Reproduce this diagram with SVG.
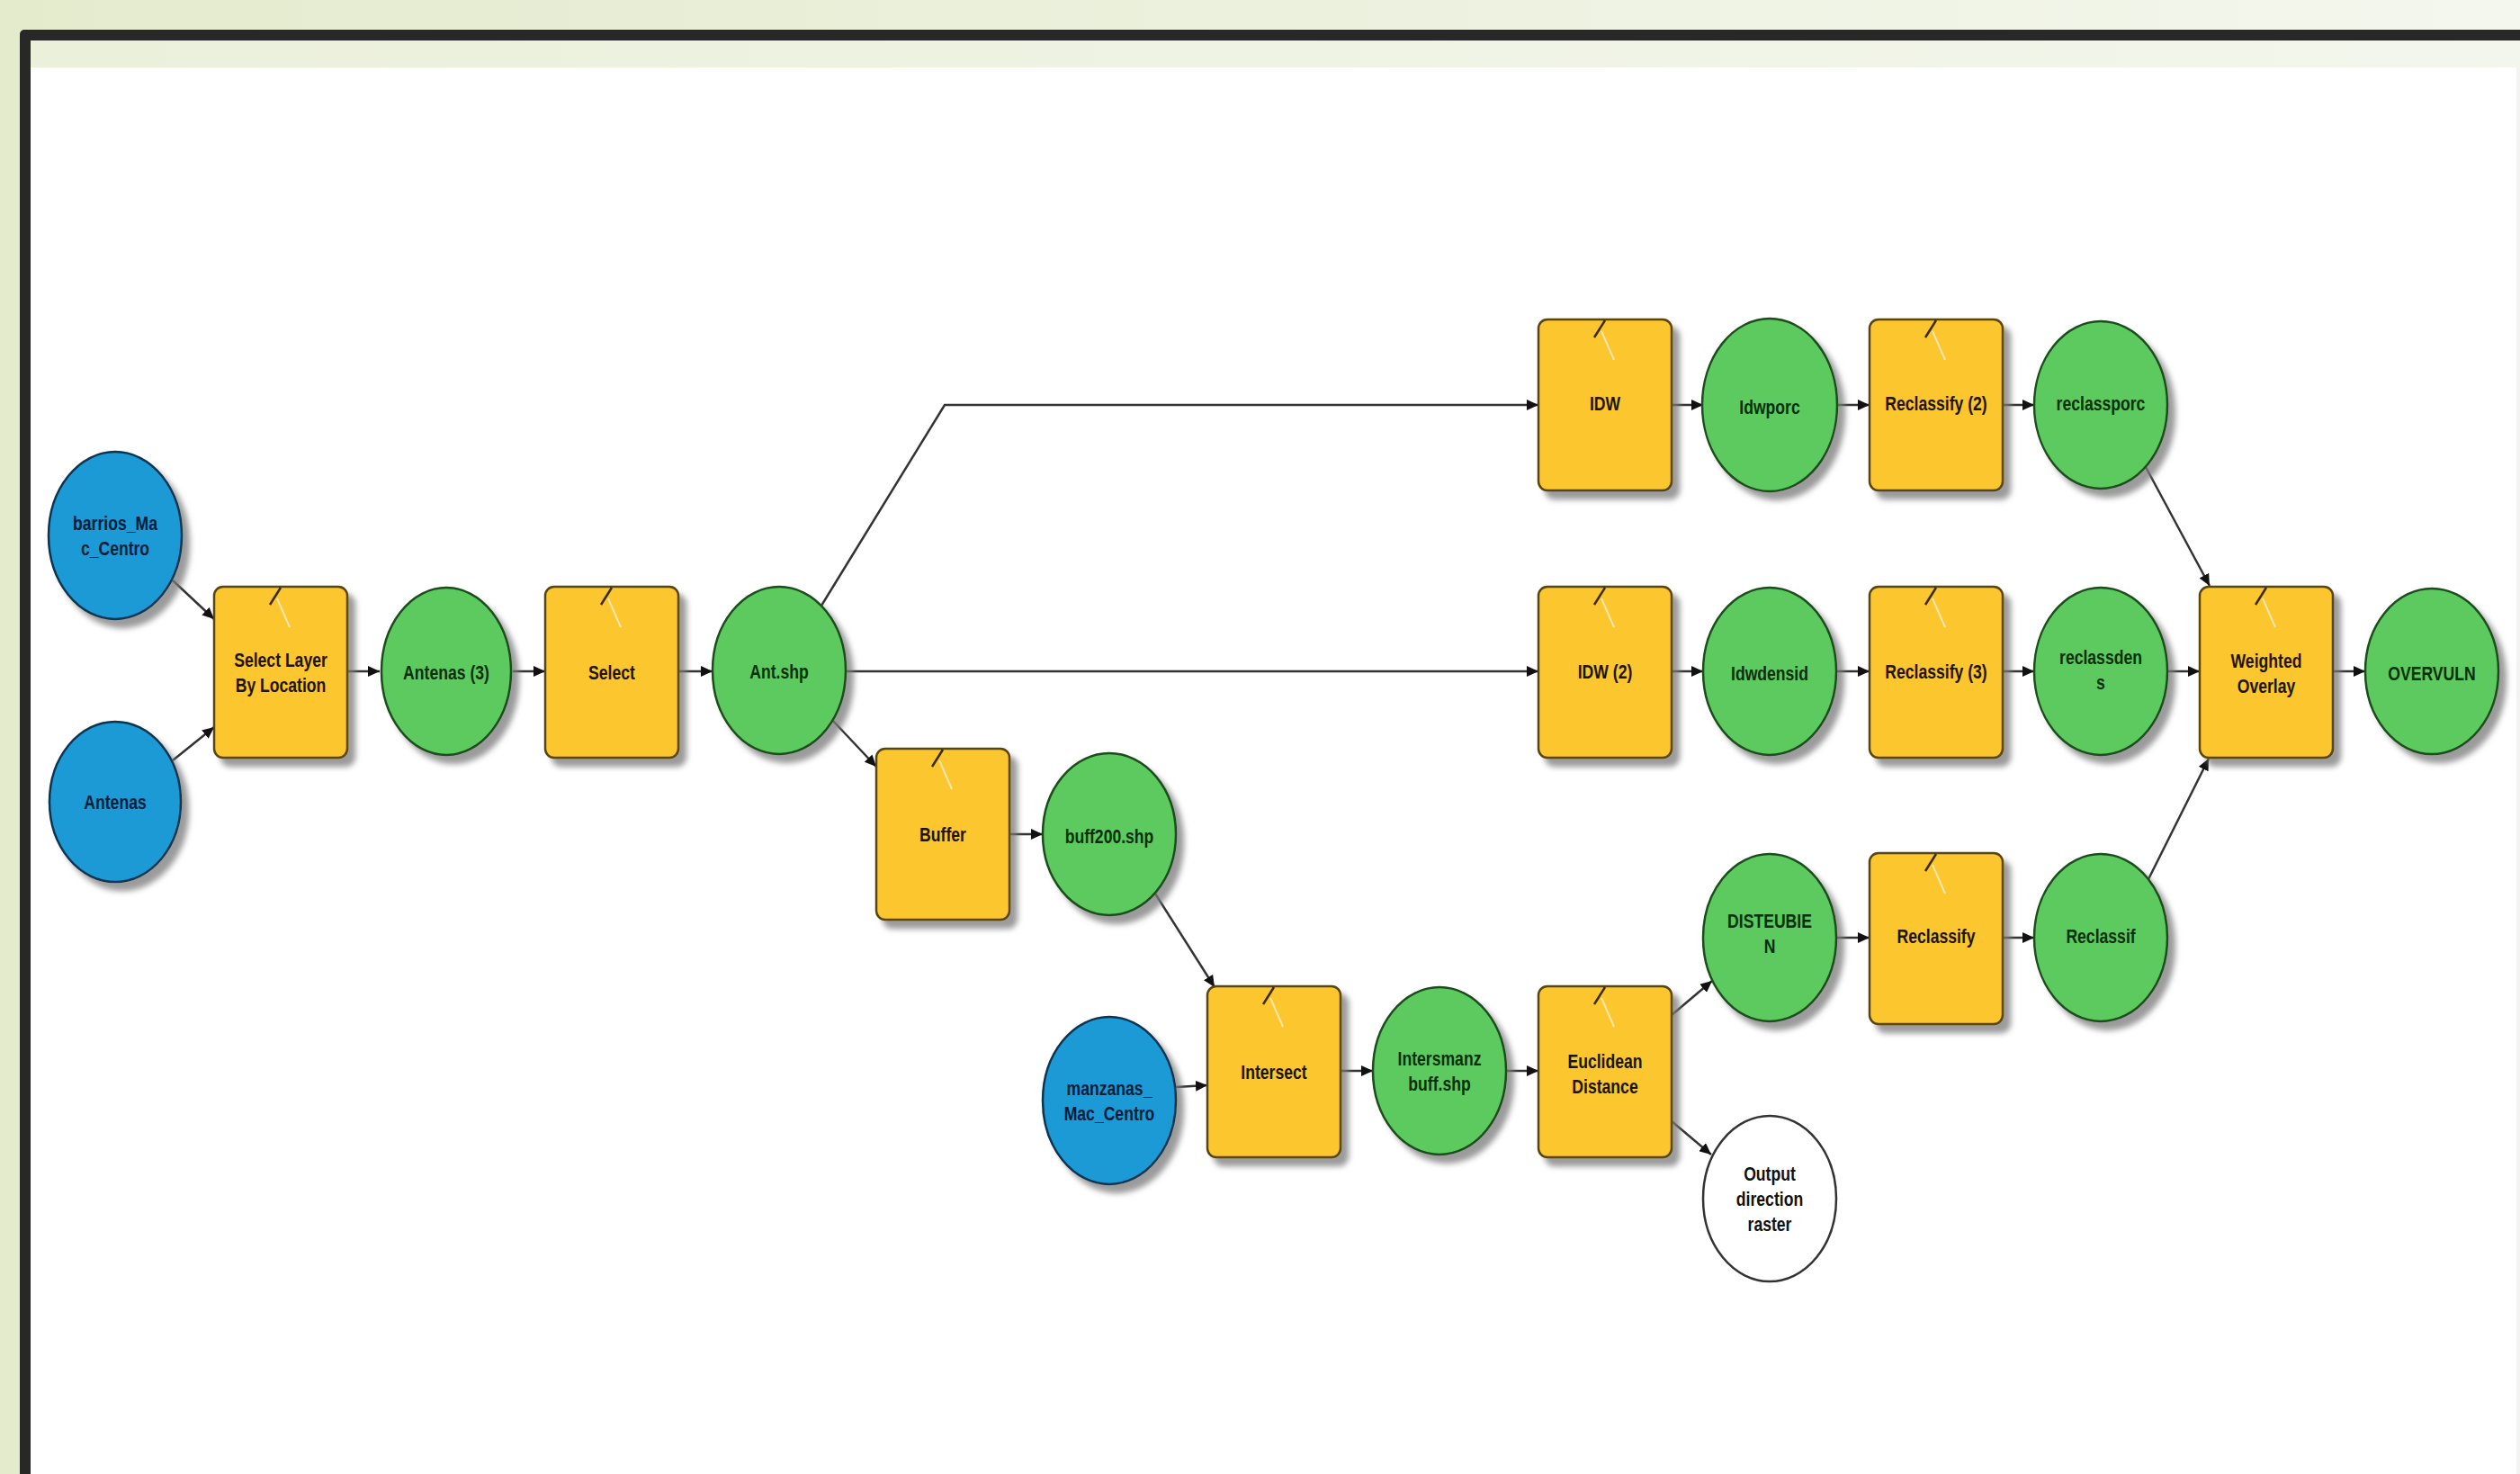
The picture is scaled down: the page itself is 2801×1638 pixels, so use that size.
<svg xmlns="http://www.w3.org/2000/svg" width="2801" height="1638" viewBox="0 0 2801 1638">
<defs>
<linearGradient id="bg" x1="0" y1="0" x2="1" y2="0">
<stop offset="0" stop-color="#e4ebcd"/><stop offset="1" stop-color="#f4f7ee"/>
</linearGradient>
<linearGradient id="strip" x1="0" y1="0" x2="1" y2="0">
<stop offset="0" stop-color="#ebf0db"/><stop offset="1" stop-color="#f3f6ec"/>
</linearGradient>
<filter id="sh" x="-20%" y="-20%" width="150%" height="150%">
<feDropShadow dx="8" dy="9" stdDeviation="3" flood-color="#7a7a7a" flood-opacity="0.75"/>
</filter>
<marker id="ar" markerUnits="userSpaceOnUse" markerWidth="14" markerHeight="12" refX="13" refY="6" orient="auto">
<path d="M0,0 L13,6 L0,12 z" fill="#111"/>
</marker>
</defs>
<style>
.tool rect{fill:#fcc62d;stroke:#5a4510;stroke-width:2.5}
.in ellipse{fill:#1b9ad6;stroke:#0b3550;stroke-width:2.5}
.der ellipse{fill:#5dca5e;stroke:#1b4d1b;stroke-width:2.5}
.out ellipse{fill:#ffffff;stroke:#333333;stroke-width:2.5}
.node text{font-family:"Liberation Sans",Arial,sans-serif;font-weight:bold;font-size:22px;text-anchor:middle}
.tool text{fill:#1e1400}
.in text{fill:#06203a}
.der text{fill:#0a300a}
.out text{fill:#111111}
.icon1{stroke:#3a2a00;stroke-width:2.5;fill:none}
.icon2{stroke:#f4e6b0;stroke-width:2;fill:none}
#connectors path,#connectors line{stroke:#333;stroke-width:2.5;fill:none;marker-end:url(#ar)}
</style>
<rect x="0" y="0" width="2801" height="1638" fill="url(#bg)"/>
<rect x="22" y="33" width="2800" height="1640" rx="5" fill="#282828"/>
<rect x="34" y="45" width="2767" height="30" fill="url(#strip)"/>
<rect x="34" y="75" width="2767" height="1563" fill="#ffffff"/>
<rect x="2797" y="75" width="4" height="1563" fill="#f3f3f1"/>

<g id="connectors">
<line x1="192" y1="645" x2="238" y2="688"/>
<line x1="192" y1="845" x2="238" y2="808"/>
<line x1="386" y1="746" x2="422" y2="746"/>
<line x1="570" y1="746" x2="606" y2="746"/>
<line x1="754" y1="746" x2="792" y2="746"/>
<path d="M913,673 L1050,450 L1710,450"/>
<line x1="940" y1="746" x2="1710" y2="746"/>
<line x1="925" y1="800" x2="974" y2="852"/>
<line x1="1122" y1="927" x2="1159" y2="927"/>
<line x1="1284" y1="993" x2="1350" y2="1097"/>
<line x1="1307" y1="1208" x2="1342" y2="1206"/>
<line x1="1490" y1="1190" x2="1526" y2="1190"/>
<line x1="1674" y1="1190" x2="1710" y2="1190"/>
<line x1="1858" y1="1128" x2="1903" y2="1090"/>
<line x1="1858" y1="1246" x2="1902" y2="1283"/>
<line x1="1858" y1="450" x2="1893" y2="450"/>
<line x1="2041" y1="450" x2="2078" y2="450"/>
<line x1="2226" y1="450" x2="2261" y2="450"/>
<line x1="1858" y1="746" x2="1893" y2="746"/>
<line x1="2041" y1="746" x2="2078" y2="746"/>
<line x1="2226" y1="746" x2="2261" y2="746"/>
<line x1="2409" y1="746" x2="2445" y2="746"/>
<line x1="2593" y1="746" x2="2629" y2="746"/>
<line x1="2041" y1="1042" x2="2078" y2="1042"/>
<line x1="2226" y1="1042" x2="2261" y2="1042"/>
<line x1="2385" y1="519" x2="2456" y2="651"/>
<line x1="2388" y1="977" x2="2455" y2="843"/>
</g>

<!-- input data (blue) -->
<g id="n_barrios" class="node in"><ellipse cx="128" cy="595" rx="74" ry="93" filter="url(#sh)"/>
<g transform="translate(128,595) scale(0.8,1)"><text y="-6">barrios_Ma</text><text y="22">c_Centro</text></g></g>
<g id="n_antenas" class="node in"><ellipse cx="128" cy="891" rx="73" ry="89" filter="url(#sh)"/>
<g transform="translate(128,891) scale(0.8,1)"><text y="8">Antenas</text></g></g>
<g id="n_manzanas" class="node in"><ellipse cx="1233" cy="1223" rx="74" ry="93" filter="url(#sh)"/>
<g transform="translate(1233,1223) scale(0.8,1)"><text y="-6">manzanas_</text><text y="22">Mac_Centro</text></g></g>

<!-- tools (yellow) -->
<g id="n_selectloc" class="node tool"><rect x="238" y="652" width="148" height="190" rx="10" filter="url(#sh)"/>
<path class="icon1" d="M300,672 L312,653"/><path class="icon2" d="M308,665 L322,697"/>
<g transform="translate(312,747) scale(0.8,1)"><text y="-6">Select Layer</text><text y="22">By Location</text></g></g>
<g id="n_select" class="node tool"><rect x="606" y="652" width="148" height="190" rx="10" filter="url(#sh)"/>
<path class="icon1" d="M668,672 L680,653"/><path class="icon2" d="M676,665 L690,697"/>
<g transform="translate(680,747) scale(0.8,1)"><text y="8">Select</text></g></g>
<g id="n_buffer" class="node tool"><rect x="974" y="832" width="148" height="190" rx="10" filter="url(#sh)"/>
<path class="icon1" d="M1036,852 L1048,833"/><path class="icon2" d="M1044,845 L1058,877"/>
<g transform="translate(1048,927) scale(0.8,1)"><text y="8">Buffer</text></g></g>
<g id="n_intersect" class="node tool"><rect x="1342" y="1096" width="148" height="190" rx="10" filter="url(#sh)"/>
<path class="icon1" d="M1404,1116 L1416,1097"/><path class="icon2" d="M1412,1109 L1426,1141"/>
<g transform="translate(1416,1191) scale(0.8,1)"><text y="8">Intersect</text></g></g>
<g id="n_euclid" class="node tool"><rect x="1710" y="1096" width="148" height="190" rx="10" filter="url(#sh)"/>
<path class="icon1" d="M1772,1116 L1784,1097"/><path class="icon2" d="M1780,1109 L1794,1141"/>
<g transform="translate(1784,1193) scale(0.8,1)"><text y="-6">Euclidean</text><text y="22">Distance</text></g></g>
<g id="n_idw" class="node tool"><rect x="1710" y="355" width="148" height="190" rx="10" filter="url(#sh)"/>
<path class="icon1" d="M1772,375 L1784,356"/><path class="icon2" d="M1780,368 L1794,400"/>
<g transform="translate(1784,448) scale(0.8,1)"><text y="8">IDW</text></g></g>
<g id="n_idw2" class="node tool"><rect x="1710" y="652" width="148" height="190" rx="10" filter="url(#sh)"/>
<path class="icon1" d="M1772,672 L1784,653"/><path class="icon2" d="M1780,665 L1794,697"/>
<g transform="translate(1784,746) scale(0.8,1)"><text y="8">IDW (2)</text></g></g>
<g id="n_reclass2" class="node tool"><rect x="2078" y="355" width="148" height="190" rx="10" filter="url(#sh)"/>
<path class="icon1" d="M2140,375 L2152,356"/><path class="icon2" d="M2148,368 L2162,400"/>
<g transform="translate(2152,448) scale(0.8,1)"><text y="8">Reclassify (2)</text></g></g>
<g id="n_reclass3" class="node tool"><rect x="2078" y="652" width="148" height="190" rx="10" filter="url(#sh)"/>
<path class="icon1" d="M2140,672 L2152,653"/><path class="icon2" d="M2148,665 L2162,697"/>
<g transform="translate(2152,746) scale(0.8,1)"><text y="8">Reclassify (3)</text></g></g>
<g id="n_reclass" class="node tool"><rect x="2078" y="948" width="148" height="190" rx="10" filter="url(#sh)"/>
<path class="icon1" d="M2140,968 L2152,949"/><path class="icon2" d="M2148,961 L2162,993"/>
<g transform="translate(2152,1040) scale(0.8,1)"><text y="8">Reclassify</text></g></g>
<g id="n_weighted" class="node tool"><rect x="2445" y="652" width="148" height="190" rx="10" filter="url(#sh)"/>
<path class="icon1" d="M2507,672 L2519,653"/><path class="icon2" d="M2515,665 L2529,697"/>
<g transform="translate(2519,748) scale(0.8,1)"><text y="-6">Weighted</text><text y="22">Overlay</text></g></g>

<!-- derived data (green) -->
<g id="n_antenas3" class="node der"><ellipse cx="496" cy="746" rx="72" ry="93" filter="url(#sh)"/>
<g transform="translate(496,747) scale(0.8,1)"><text y="8">Antenas (3)</text></g></g>
<g id="n_antshp" class="node der"><ellipse cx="866" cy="745" rx="74" ry="93" filter="url(#sh)"/>
<g transform="translate(866,746) scale(0.8,1)"><text y="8">Ant.shp</text></g></g>
<g id="n_buff200" class="node der"><ellipse cx="1233" cy="927" rx="74" ry="90" filter="url(#sh)"/>
<g transform="translate(1233,929) scale(0.8,1)"><text y="8">buff200.shp</text></g></g>
<g id="n_intersmanz" class="node der"><ellipse cx="1600" cy="1190" rx="74" ry="93" filter="url(#sh)"/>
<g transform="translate(1600,1190) scale(0.8,1)"><text y="-6">Intersmanz</text><text y="22">buff.shp</text></g></g>
<g id="n_idwporc" class="node der"><ellipse cx="1967" cy="450" rx="75" ry="96" filter="url(#sh)"/>
<g transform="translate(1967,452) scale(0.8,1)"><text y="8">Idwporc</text></g></g>
<g id="n_idwdensid" class="node der"><ellipse cx="1967" cy="746" rx="74" ry="93" filter="url(#sh)"/>
<g transform="translate(1967,748) scale(0.8,1)"><text y="8">Idwdensid</text></g></g>
<g id="n_disteubien" class="node der"><ellipse cx="1967" cy="1042" rx="74" ry="93" filter="url(#sh)"/>
<g transform="translate(1967,1037) scale(0.8,1)"><text y="-6">DISTEUBIE</text><text y="22">N</text></g></g>
<g id="n_reclassporc" class="node der"><ellipse cx="2335" cy="450" rx="74" ry="93" filter="url(#sh)"/>
<g transform="translate(2335,448) scale(0.8,1)"><text y="8">reclassporc</text></g></g>
<g id="n_reclassdens" class="node der"><ellipse cx="2335" cy="746" rx="74" ry="93" filter="url(#sh)"/>
<g transform="translate(2335,744) scale(0.8,1)"><text y="-6">reclassden</text><text y="22">s</text></g></g>
<g id="n_reclassif" class="node der"><ellipse cx="2335" cy="1042" rx="74" ry="93" filter="url(#sh)"/>
<g transform="translate(2335,1040) scale(0.8,1)"><text y="8">Reclassif</text></g></g>
<g id="n_overvuln" class="node der"><ellipse cx="2703" cy="746" rx="74" ry="92" filter="url(#sh)"/>
<g transform="translate(2703,748) scale(0.8,1)"><text y="8">OVERVULN</text></g></g>

<!-- intermediate output (white) -->
<g id="n_outdir" class="node out"><ellipse cx="1967" cy="1332" rx="74" ry="92"/>
<g transform="translate(1967,1332) scale(0.8,1)"><text y="-20">Output</text><text y="8">direction</text><text y="36">raster</text></g></g>
</svg>
